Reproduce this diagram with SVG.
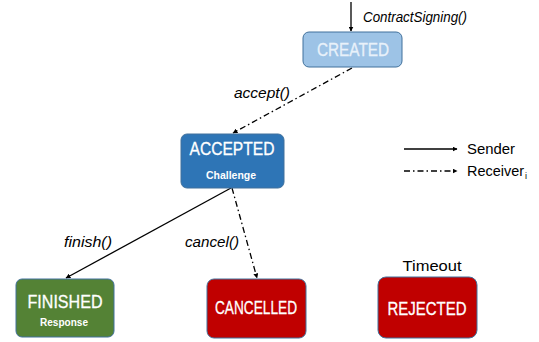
<svg xmlns="http://www.w3.org/2000/svg" width="539" height="342" viewBox="0 0 539 342">
<style>
.box{stroke:#41719C;stroke-width:1}
.t{font-family:"Liberation Sans",Arial,sans-serif;fill:#fff;text-anchor:middle}
.big{font-size:18px;stroke:#fff;stroke-width:0.3}
.small{font-size:11px;font-weight:bold}
.lbl{font-family:"Liberation Sans",Arial,sans-serif;font-size:14px;font-style:italic;fill:#000}
.leg{font-family:"Liberation Sans",Arial,sans-serif;font-size:14px;fill:#000}
.solid{stroke:#000;stroke-width:1.3;fill:none}
.dd{stroke:#000;stroke-width:1.3;fill:none;stroke-dasharray:6 3 1.5 3}
</style>
<defs>
<marker id="ah" viewBox="0 0 10 10" refX="9" refY="5" markerWidth="5" markerHeight="5" orient="auto" markerUnits="userSpaceOnUse">
<path d="M0,0 L10,5 L0,10 z" fill="#000"/>
</marker>
</defs>
<rect width="539" height="342" fill="#fff"/>
<g id="connectors">
<line class="solid" x1="351" y1="2" x2="351" y2="31" marker-end="url(#ah)"/>
<line class="dd" x1="352" y1="68" x2="233" y2="133" marker-end="url(#ah)"/>
<line class="solid" x1="231" y1="188" x2="66" y2="278" marker-end="url(#ah)"/>
<line class="dd" x1="232" y1="188" x2="257" y2="278" marker-end="url(#ah)"/>
<text class="lbl" x="363" y="22" textLength="104" lengthAdjust="spacingAndGlyphs">ContractSigning()</text>
<text class="lbl" x="234" y="98" textLength="56" lengthAdjust="spacingAndGlyphs">accept()</text>
<text class="lbl" x="64" y="247" textLength="48" lengthAdjust="spacingAndGlyphs">finish()</text>
<text class="lbl" x="185" y="247" textLength="54" lengthAdjust="spacingAndGlyphs">cancel()</text>
</g>
<g id="legend">
<line class="solid" x1="404" y1="149" x2="457" y2="149" marker-end="url(#ah)"/>
<text class="leg" x="467" y="154" textLength="48" lengthAdjust="spacingAndGlyphs">Sender</text>
<line class="dd" x1="404" y1="171" x2="457" y2="171" marker-end="url(#ah)"/>
<text class="leg" x="467" y="176" textLength="57" lengthAdjust="spacingAndGlyphs">Receiver</text>
<text class="leg" x="525" y="179" font-size="9" style="font-size:9px;fill:#000">i</text>
</g>
<g id="created">
<rect class="box" x="303" y="32" width="99" height="35" rx="6" fill="#9DC3E6"/>
<text class="t big" x="353" y="56" style="fill:#E8F1FA;stroke:#E8F1FA" textLength="72" lengthAdjust="spacingAndGlyphs">CREATED</text>
</g>
<g id="accepted">
<rect class="box" x="181" y="134" width="103" height="54" rx="6" fill="#2E75B6"/>
<text class="t big" x="232" y="155" textLength="85" lengthAdjust="spacingAndGlyphs">ACCEPTED</text>
<text class="t small" x="231" y="179" textLength="50" lengthAdjust="spacingAndGlyphs">Challenge</text>
</g>
<g id="finished">
<rect class="box" x="16" y="279" width="98" height="58" rx="6" fill="#548235"/>
<text class="t big" x="65" y="308" textLength="75" lengthAdjust="spacingAndGlyphs">FINISHED</text>
<text class="t small" x="64" y="326" textLength="48" lengthAdjust="spacingAndGlyphs">Response</text>
</g>
<g id="cancelled">
<rect class="box" x="207" y="279" width="99" height="59" rx="7" fill="#C00000"/>
<text class="t big" x="256" y="314" textLength="82" lengthAdjust="spacingAndGlyphs">CANCELLED</text>
</g>
<g id="rejected">
<text class="leg" x="432" y="271" text-anchor="middle" textLength="59" lengthAdjust="spacingAndGlyphs">Timeout</text>
<rect class="box" x="378" y="277" width="99" height="61" rx="8" fill="#C00000"/>
<text class="t big" x="427" y="315" textLength="79" lengthAdjust="spacingAndGlyphs">REJECTED</text>
</g>
</svg>
